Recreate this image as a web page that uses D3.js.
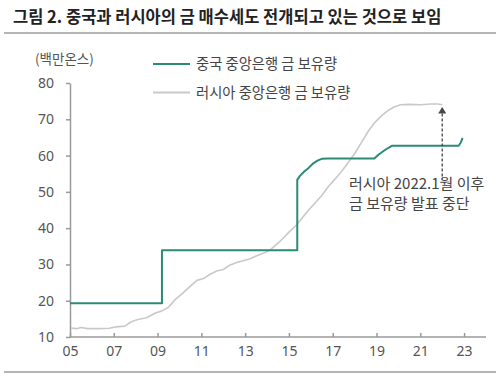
<!DOCTYPE html>
<html>
<head>
<meta charset="utf-8">
<script src="https://cdn.jsdelivr.net/npm/d3@7"></script>
<style>
  body { margin: 0; background: #fff; }
  svg { display: block; font-family: "Noto Sans CJK KR", "Noto Sans", sans-serif; }
</style>
</head>
<body>
<svg id="chart"></svg>
<script>
// 중국 중앙은행 금 보유량 (백만온스)
const chinaYears  = [2005.0, 2009.2, 2009.2, 2015.38, 2015.38, 2015.5, 2015.7, 2015.9, 2016.1, 2016.3, 2016.5, 2016.8, 2018.9, 2019.1, 2019.4, 2019.7, 2022.75, 2022.85, 2022.93];
const chinaValues = [19.3, 19.3, 33.9, 33.9, 53.3, 54.4, 55.6, 56.6, 57.8, 58.6, 59.1, 59.2, 59.2, 60.3, 61.6, 62.7, 62.7, 63.6, 64.9];

// 러시아 중앙은행 금 보유량 (백만온스)
const russiaYears  = [2005.05, 2005.3, 2005.5, 2005.8, 2006.3, 2006.8, 2007.1, 2007.5, 2007.8, 2008.1, 2008.5, 2008.9, 2009.2, 2009.5, 2009.8, 2010.1, 2010.5, 2010.8, 2011.1, 2011.4, 2011.7, 2012.0, 2012.3, 2012.6, 2012.9, 2013.2, 2013.5, 2013.8, 2014.1, 2014.4, 2014.7, 2015.0, 2015.3, 2015.6, 2015.9, 2016.2, 2016.5, 2016.8, 2017.1, 2017.4, 2017.7, 2018.0, 2018.3, 2018.6, 2018.9, 2019.2, 2019.5, 2019.8, 2020.1, 2020.5, 2021.0, 2021.5, 2021.8, 2022.0];
const russiaValues = [12.5, 12.3, 12.6, 12.3, 12.3, 12.4, 12.8, 13.0, 14.2, 14.8, 15.3, 16.6, 17.2, 18.2, 20.3, 21.8, 24.0, 25.6, 26.1, 27.3, 28.2, 28.6, 29.8, 30.5, 31.0, 31.5, 32.3, 33.0, 33.8, 35.3, 37.0, 38.9, 40.6, 42.8, 45.0, 47.0, 49.0, 51.5, 53.5, 55.6, 58.0, 60.5, 63.5, 66.5, 69.0, 70.8, 72.3, 73.4, 74.0, 74.1, 74.0, 74.2, 74.2, 74.0];

const xTicks = [2005, 2007, 2009, 2011, 2013, 2015, 2017, 2019, 2021, 2023];
const yTicks = [10, 20, 30, 40, 50, 60, 70, 80];

const titleText = '그림 2. 중국과 러시아의 금 매수세도 전개되고 있는 것으로 보임';
const unitText = '(백만온스)';
const legendNames = ['중국 중앙은행 금 보유량', '러시아 중앙은행 금 보유량'];
const noteLines = ['러시아 2022.1월 이후', '금 보유량 발표 중단'];

const width = 500, height = 378;
const margin = {top: 83, right: 14, bottom: 41, left: 70};
const innerW = width - margin.left - margin.right;
const innerH = height - margin.top - margin.bottom;

const green = '#2b8a78';
const gray = '#c9c9c9';
const axisColor = '#9a9a9a';
const textColor = '#555';

const svg = d3.select('#chart')
    .attr('width', width)
    .attr('height', height);

// title + separators
svg.append('text')
    .attr('x', 13)
    .attr('y', 23)
    .attr('font-size', 16.5)
    .attr('font-weight', 'bold')
    .attr('fill', '#222')
    .text(titleText);

svg.append('line')
    .attr('x1', 4).attr('x2', 496)
    .attr('y1', 33).attr('y2', 33)
    .attr('stroke', '#b5b5b5')
    .attr('stroke-width', 2);

svg.append('line')
    .attr('x1', 4).attr('x2', 496)
    .attr('y1', 372).attr('y2', 372)
    .attr('stroke', '#b5b5b5')
    .attr('stroke-width', 2);

const chart = svg.append('g')
    .attr('transform', `translate(${margin.left},${margin.top})`);

const xScale = d3.scaleLinear()
    .domain([2005, 2024])
    .range([0, innerW]);

const yScale = d3.scaleLinear()
    .domain([10, 80])
    .range([innerH, 0]);

// axes
const xAxis = d3.axisBottom(xScale)
    .tickValues(xTicks)
    .tickSize(-4)
    .tickSizeOuter(0)
    .tickPadding(9)
    .tickFormat(d => d3.format('02d')(d % 100));

const yAxis = d3.axisLeft(yScale)
    .tickValues(yTicks)
    .tickSize(4)
    .tickSizeOuter(0)
    .tickPadding(12);

const xAxisG = chart.append('g')
    .attr('transform', `translate(0,${innerH})`)
    .call(xAxis);

const yAxisG = chart.append('g')
    .call(yAxis);

[xAxisG, yAxisG].forEach(g => {
    g.selectAll('path, line').attr('stroke', axisColor).attr('stroke-width', 1.5);
    g.selectAll('text')
        .attr('fill', textColor)
        .style('font-size', '14px')
        .style('font-family', '"Noto Sans", sans-serif');
});
xAxisG.select('.domain').attr('d', `M0,0H${innerW}`);

// unit label
svg.append('text')
    .attr('x', 35)
    .attr('y', 64)
    .attr('font-size', 13.5)
    .attr('fill', textColor)
    .text(unitText);

// lines
const line = d3.line()
    .x(d => xScale(d[0]))
    .y(d => yScale(d[1]));

const russia = russiaYears.map((y, i) => [y, russiaValues[i]]);
const china = chinaYears.map((y, i) => [y, chinaValues[i]]);

chart.append('path')
    .datum(russia)
    .attr('fill', 'none')
    .attr('stroke', gray)
    .attr('stroke-width', 1.6)
    .attr('stroke-linejoin', 'round')
    .attr('d', line);

chart.append('path')
    .datum(china)
    .attr('fill', 'none')
    .attr('stroke', green)
    .attr('stroke-width', 2)
    .attr('stroke-linejoin', 'round')
    .attr('d', line);

// legend
const legend = svg.append('g');
const legendColors = [green, gray];
legendNames.forEach((name, i) => {
    const y = 64 + i * 28.5;
    legend.append('line')
        .attr('x1', 153).attr('x2', 190)
        .attr('y1', y).attr('y2', y)
        .attr('stroke', legendColors[i])
        .attr('stroke-width', 2);
    legend.append('text')
        .attr('x', 196)
        .attr('y', y)
        .attr('dy', '0.35em')
        .attr('font-size', 14.3)
        .attr('fill', '#444')
        .text(name);
});

// annotation arrow
const arrowX = xScale(2022.0);
chart.append('line')
    .attr('x1', arrowX).attr('x2', arrowX)
    .attr('y1', yScale(71.6)).attr('y2', yScale(53.5))
    .attr('stroke', '#444')
    .attr('stroke-width', 1.3)
    .attr('stroke-dasharray', '3,2');

chart.append('path')
    .attr('d', `M${arrowX},${yScale(73.4)}L${arrowX - 4},${yScale(71.6)}L${arrowX + 4},${yScale(71.6)}Z`)
    .attr('fill', '#444');

const note = svg.append('text')
    .attr('x', 349)
    .attr('font-size', 15)
    .attr('fill', '#444');
noteLines.forEach((t, i) => {
    note.append('tspan')
        .attr('x', 349)
        .attr('y', 189 + i * 20)
        .text(t);
});
</script>
</body>
</html>
